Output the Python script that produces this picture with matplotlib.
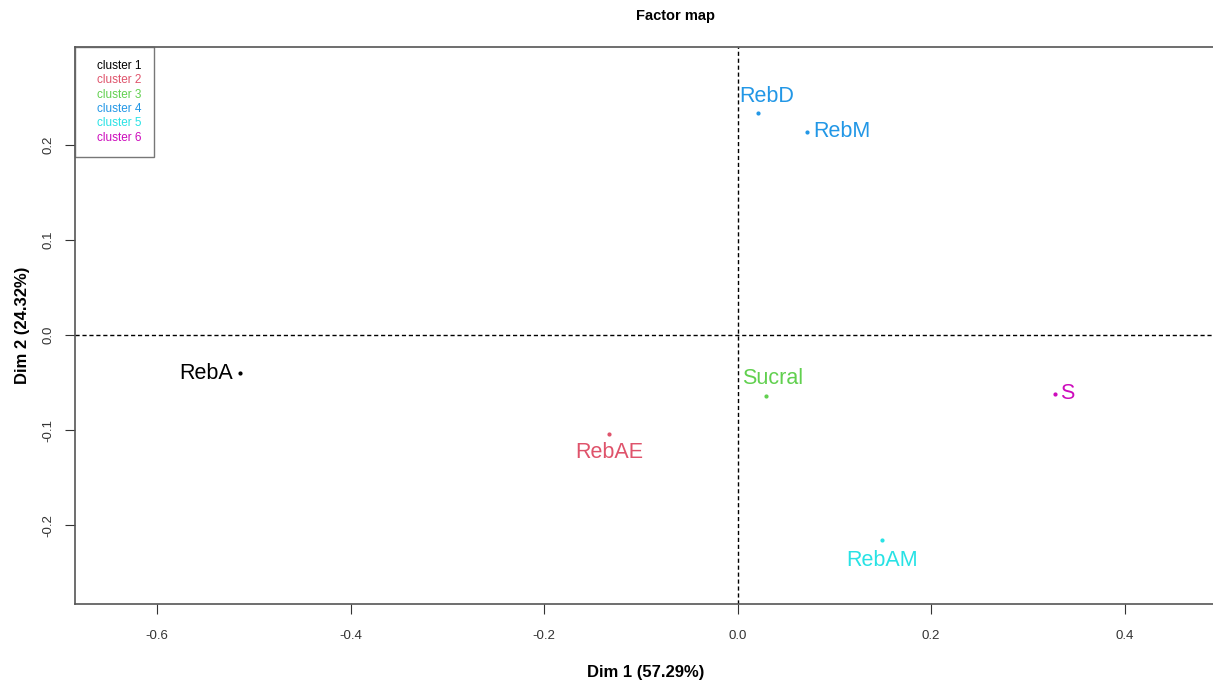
import matplotlib.pyplot as plt
from matplotlib.lines import Line2D

plt.rcParams['font.family'] = ['Liberation Sans', 'DejaVu Sans']

names = ["RebA", "RebAE", "Sucral", "RebD", "RebM", "RebAM", "S"]
dim1 = [-0.514, -0.133, 0.029, 0.021, 0.072, 0.149, 0.328]
dim2 = [-0.040, -0.104, -0.064, 0.234, 0.214, -0.216, -0.062]
cluster = [1, 2, 3, 4, 4, 5, 6]
cluster_names = ["cluster 1", "cluster 2", "cluster 3", "cluster 4", "cluster 5", "cluster 6"]

cols = ["black", "#DF536B", "#61D04F", "#2297E6", "#28E2E5", "#CD0BBC"]
# label offsets (points) and alignment, like R's pos argument
label_pos = {"RebA": ((-5, 0), "right", "center"),
             "RebAE": ((0, -6), "center", "top"),
             "Sucral": ((5, 5), "center", "bottom"),
             "RebD": ((6, 4), "center", "bottom"),
             "RebM": ((4, 0), "left", "center"),
             "RebAM": ((0, -7), "center", "top"),
             "S": ((4, 0), "left", "center")}

fig = plt.figure(figsize=(12.13, 6.87), dpi=100)
ax = fig.add_axes([75/1213, 1 - 604/687, (1213 - 75)/1213 + 0.002, (604 - 47)/687])

ax.axvline(0, color="black", ls=(0, (3, 2)), lw=1)
ax.axhline(0, color="black", ls=(0, (3, 2)), lw=1)

for n, x, y, c in zip(names, dim1, dim2, cluster):
    col = cols[c - 1]
    ax.plot(x, y, "o", ms=2, color=col)
    off, ha, va = label_pos[n]
    ax.annotate(n, (x, y), xytext=off, textcoords="offset points",
                ha=ha, va=va, color=col, fontsize=15.5)

ax.set_xlim(-0.685, 0.494)
ax.set_ylim(-0.283, 0.303)
ax.set_xticks([-0.6, -0.4, -0.2, 0.0, 0.2, 0.4])
ax.set_yticks([-0.2, -0.1, 0.0, 0.1, 0.2])
ax.set_xticklabels(["-0.6", "-0.4", "-0.2", "0.0", "0.2", "0.4"])
ax.set_yticklabels(["-0.2", "-0.1", "0.0", "0.1", "0.2"], rotation=90, va="center")
ax.tick_params(direction="out", length=7, labelsize=9.5, color="#333333", labelcolor="#333333")
ax.tick_params(axis="x", pad=12)
ax.tick_params(axis="y", pad=8)
for s in ax.spines.values():
    s.set_color("#555555")
    s.set_linewidth(1.2)

ax.set_xlabel("Dim 1 (57.29%)", fontsize=12, fontweight="bold", labelpad=16)
ax.set_ylabel("Dim 2 (24.32%)", fontsize=12, fontweight="bold", labelpad=9)
fig.text(676/1213, 1 - 16/687, "Factor map", ha="center", va="center", fontsize=10.5, fontweight="bold")

handles = [Line2D([], [], linestyle="none") for _ in cluster_names]
leg = ax.legend(handles, cluster_names, loc="upper left", fontsize=8.5, labelcolor=cols,
                handlelength=0.55, handletextpad=0.2, frameon=True, fancybox=False,
                borderpad=1.1, labelspacing=0.2, borderaxespad=0)
leg.get_frame().set_edgecolor("#555555")
leg.get_frame().set_linewidth(1.0)

fig.savefig("out.png", dpi=100)
